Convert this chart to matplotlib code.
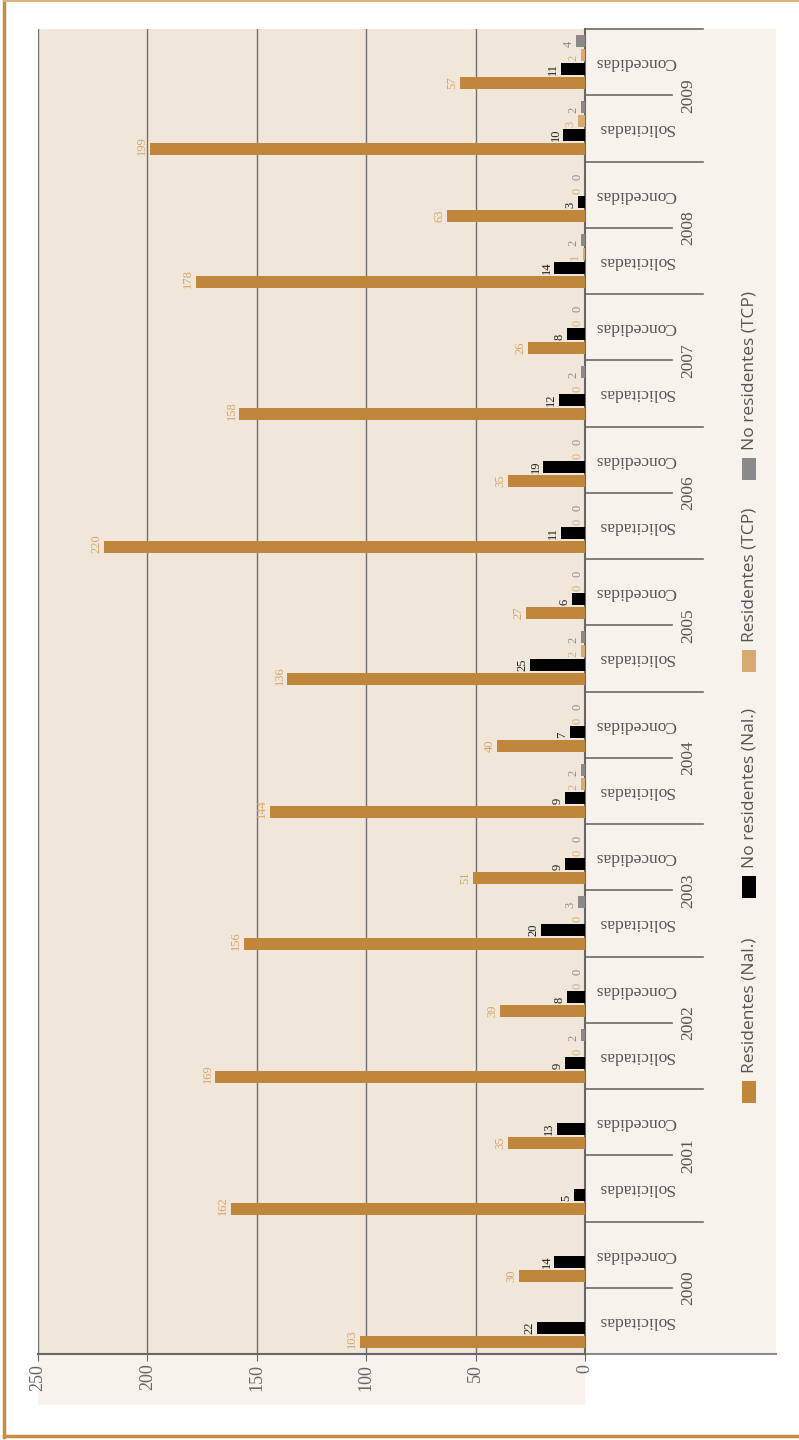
import matplotlib.pyplot as plt
from matplotlib.patches import Rectangle
from matplotlib.lines import Line2D

# solicitudes / concesiones por año, de abajo hacia arriba
years = ['2000', '2001', '2002', '2003', '2004', '2005', '2006', '2007', '2008', '2009']
kinds = ['Solicitadas', 'Concedidas']

res_nal   = [103, 30, 162, 35, 169, 39, 156, 51, 144, 40, 136, 27, 220, 35, 158, 26, 178, 63, 199, 57]
nores_nal = [22, 14, 5, 13, 9, 8, 20, 9, 9, 7, 25, 6, 11, 19, 12, 8, 14, 3, 10, 11]
res_tcp   = [None, None, None, None, 0, 0, 0, 0, 2, 0, 2, 0, 0, 0, 0, 0, 1, 0, 3, 2]
nores_tcp = [None, None, None, None, 2, 0, 3, 0, 2, 0, 2, 0, 0, 0, 2, 0, 2, 0, 2, 4]

legend_names = ['Residentes (Nal.)', 'No residentes (Nal.)', 'Residentes (TCP)', 'No residentes (TCP)']
bar_colors   = ['#c0873a', '#000000', '#d6aa72', '#8a8a8a']
label_colors = ['#d6a664', '#1e1e1e', '#d9ae78', '#8e8e8e']
series = [res_nal, nores_nal, res_tcp, nores_tcp]

W, H = 799, 1440
fig = plt.figure(figsize=(W / 100, H / 100), dpi=100)
fig.patch.set_facecolor('white')

def fx(px):
    return px / W

def fy(py):
    return 1 - py / H

# main bar area
ax = fig.add_axes([fx(38), fy(1354), (585 - 38) / W, (1354 - 29) / H])
ax.set_facecolor('#f1e6da')
ncat = len(res_nal)
ax.set_ylim(-0.5, ncat - 0.5)
ax.set_xlim(250, 0)

step = 14 / 66.25
h = 12 / 66.25
for j, vals in enumerate(series):
    off = (-1.5 + j) * step
    for i, v in enumerate(vals):
        if v is None:
            continue
        y = i + off
        ax.barh(y, v, height=h, color=bar_colors[j], zorder=3)
        ax.annotate(str(v), xy=(v, y - h / 2), xytext=(-1.2, 0), textcoords='offset points',
                    rotation=90, rotation_mode='anchor', ha='left', va='bottom',
                    fontsize=9, family='Liberation Serif', color=label_colors[j], zorder=4)

ax.set_xticks(range(0, 251, 50))
ax.set_xticklabels([str(t) for t in range(0, 251, 50)], rotation=90,
                   fontsize=13, family='Liberation Serif', color='#666666')
ax.tick_params(axis='x', length=5, color='#666666', pad=2)
ax.set_yticks([])
ax.grid(axis='x', color='#707070', lw=1)
ax.set_axisbelow(True)
for s in ['left', 'top']:
    ax.spines[s].set_visible(False)
for s in ['right', 'bottom']:
    ax.spines[s].set_color('#666666')
    ax.spines[s].set_linewidth(1.5)

# category panel on the right
ax2 = fig.add_axes([fx(585), fy(1354), (776 - 585) / W, (1354 - 29) / H])
ax2.set_facecolor('#f8f2ec')
ax2.set_ylim(-0.5, ncat - 0.5)
ax2.set_xlim(0, 1)
ax2.set_xticks([])
ax2.set_yticks([])
for s in ['left', 'top', 'right']:
    ax2.spines[s].set_visible(False)
ax2.spines['bottom'].set_color('#8a8a8a')
ax2.spines['bottom'].set_linewidth(1.5)
ax2.set_zorder(0)
ax.set_zorder(1)

for k, yr in enumerate(years):
    ax2.plot([0, 0.455], [2 * k + 0.5] * 2, color='#6a6a6a', lw=1.2, clip_on=False)
    ax2.plot([0, 0.618], [2 * k + 1.5] * 2, color='#6a6a6a', lw=1.2, clip_on=False)
    ax2.text(0.54, 2 * k + 0.5, yr, rotation=90, ha='center', va='center',
             fontsize=12.5, family='Liberation Serif', color='#555555')
    for m, kind in enumerate(kinds):
        ax2.text(0.265, 2 * k + m, kind, rotation=180, ha='center', va='center',
                 fontsize=12.5, family='Liberation Serif', color='#555555')

# legend, drawn by hand so it reads vertically
legend_bottoms = [1103, 898, 672, 480]
for name, col, pb in zip(legend_names, bar_colors, legend_bottoms):
    fig.add_artist(Rectangle((fx(742), fy(pb)), 14 / W, 22 / H, transform=fig.transFigure,
                             facecolor=col, edgecolor='none'))
    fig.text(fx(749), fy(pb - 30), name, rotation=90, rotation_mode='anchor',
             ha='left', va='center', fontsize=12.5, family='Open Sans', color='#555555')

# light strip under the tick labels
fig.add_artist(Rectangle((fx(38), fy(1405)), (585 - 38) / W, (1405 - 1355) / H,
                         transform=fig.transFigure, facecolor='#f8f2ec', edgecolor='none', zorder=-1))

# page frame
fig.add_artist(Line2D([fx(4), fx(4)], [fy(0), fy(1437)], transform=fig.transFigure, color='#c68d45', lw=2.5))
fig.add_artist(Line2D([fx(4), fx(799)], [fy(1436), fy(1436)], transform=fig.transFigure, color='#c68d45', lw=2.5))
fig.add_artist(Line2D([fx(4), fx(799)], [fy(0.5), fy(0.5)], transform=fig.transFigure, color='#dcb783', lw=1.5))

fig.savefig('out.png', dpi=100)
